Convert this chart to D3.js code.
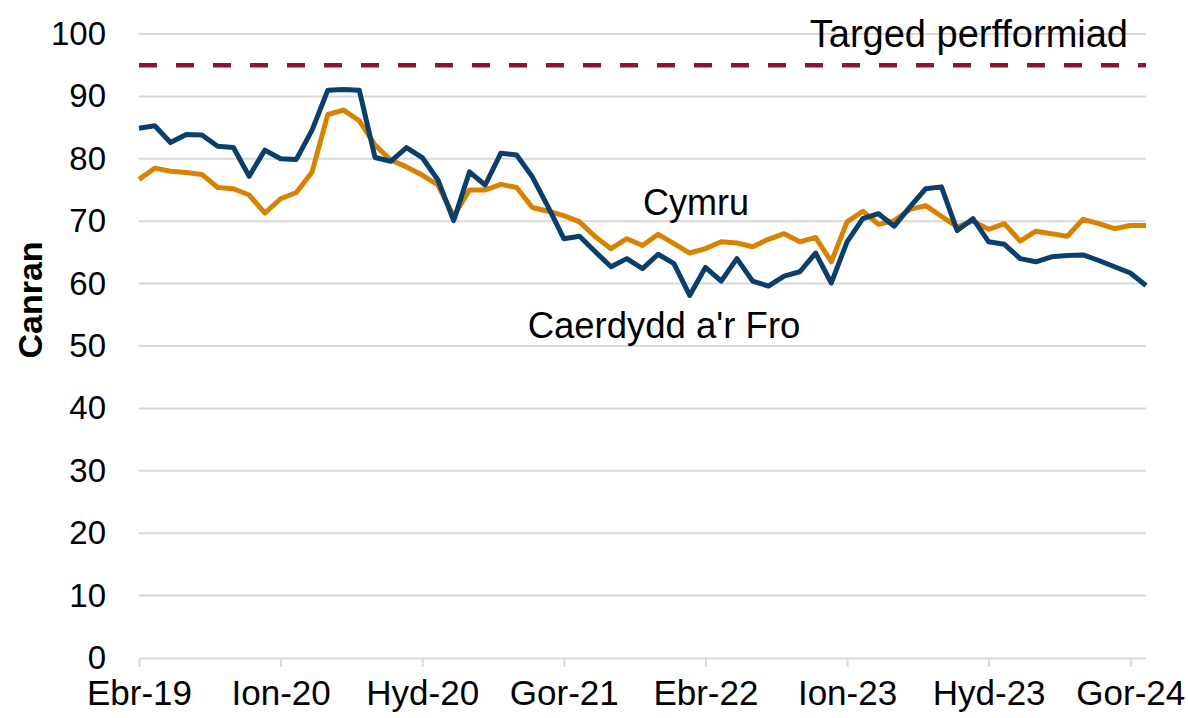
<!DOCTYPE html>
<html>
<head>
<meta charset="utf-8">
<script src="https://cdn.jsdelivr.net/npm/d3@7/dist/d3.min.js"></script>
<style>
  html, body { margin: 0; padding: 0; background: #fff; }
  svg { display: block; font-family: "Liberation Sans", Arial, sans-serif; }
</style>
</head>
<body>
<svg id="chart" width="1188" height="718"></svg>
<script>
const months = [
  "Ebr-19","Mai-19","Meh-19","Gor-19","Aws-19","Med-19","Hyd-19","Tach-19","Rha-19",
  "Ion-20","Chw-20","Maw-20","Ebr-20","Mai-20","Meh-20","Gor-20","Aws-20","Med-20",
  "Hyd-20","Tach-20","Rha-20","Ion-21","Chw-21","Maw-21","Ebr-21","Mai-21","Meh-21",
  "Gor-21","Aws-21","Med-21","Hyd-21","Tach-21","Rha-21","Ion-22","Chw-22","Maw-22",
  "Ebr-22","Mai-22","Meh-22","Gor-22","Aws-22","Med-22","Hyd-22","Tach-22","Rha-22",
  "Ion-23","Chw-23","Maw-23","Ebr-23","Mai-23","Meh-23","Gor-23","Aws-23","Med-23",
  "Hyd-23","Tach-23","Rha-23","Ion-24","Chw-24","Maw-24","Ebr-24","Mai-24","Meh-24",
  "Gor-24","Aws-24"
];

const caerdydd = [
  84.9, 85.3, 82.6, 83.9, 83.8, 82.0, 81.8, 77.2, 81.4,
  80.0, 79.9, 84.6, 91.0, 91.1, 91.0, 80.2, 79.6, 81.8,
  80.2, 76.6, 70.1, 77.9, 75.8, 80.9, 80.6, 77.1, 72.3,
  67.2, 67.6, 65.1, 62.7, 64.0, 62.4, 64.7, 63.2, 58.1,
  62.6, 60.4, 64.0, 60.4, 59.6, 61.2, 61.9, 64.9, 60.1,
  66.7, 70.4, 71.2, 69.2, 72.3, 75.2, 75.5, 68.5, 70.4,
  66.7, 66.3, 64.0, 63.5, 64.3, 64.5, 64.6, 63.7, 62.7,
  61.7, 59.7
];

const cymru = [
  76.7, 78.5, 78.0, 77.8, 77.5, 75.4, 75.2, 74.2, 71.3,
  73.6, 74.6, 77.9, 87.1, 87.8, 86.1, 82.2, 79.8, 78.7,
  77.4, 75.8, 70.8, 75.0, 75.0, 75.9, 75.4, 72.2, 71.6,
  70.9, 69.9, 67.5, 65.6, 67.2, 66.1, 67.9, 66.4, 64.9,
  65.6, 66.7, 66.5, 65.9, 67.1, 68.0, 66.7, 67.4, 63.5,
  69.9, 71.6, 69.5, 70.1, 71.9, 72.5, 70.8, 69.1, 70.0,
  68.7, 69.6, 66.8, 68.4, 68.0, 67.6, 70.3, 69.6, 68.8,
  69.3, 69.3
];

const target = 95;
const xTickLabels = ["Ebr-19","Ion-20","Hyd-20","Gor-21","Ebr-22","Ion-23","Hyd-23","Gor-24"];
const yTicks = [0,10,20,30,40,50,60,70,80,90,100];

(function () {
const svg = d3.select("#chart");
const pLeft = 139, pRight = 1146, pTop = 34, pBottom = 658;

const x = d3.scalePoint().domain(months).range([pLeft, pRight]);
const y = d3.scaleLinear().domain([0, 100]).range([pBottom, pTop]);

// gridlines
svg.append("g").selectAll("line")
  .data(yTicks.filter(d => d > 0))
  .join("line")
  .attr("x1", pLeft).attr("x2", pRight)
  .attr("y1", d => y(d)).attr("y2", d => y(d))
  .attr("stroke", "#d9d9d9").attr("stroke-width", 2);

// y axis labels
const yAxis = d3.axisLeft(y).tickValues(yTicks).tickSize(0).tickPadding(33);
const gy = svg.append("g").attr("transform", `translate(${pLeft},0)`).call(yAxis);
gy.select(".domain").remove();
gy.selectAll("text").attr("font-size", 33).attr("fill", "#000")
  .attr("font-family", "Liberation Sans, Arial, sans-serif");

// x axis
const xAxis = d3.axisBottom(x).tickValues(xTickLabels).tickSize(9).tickPadding(13).tickSizeOuter(0);
const gx = svg.append("g").attr("transform", `translate(0,${pBottom})`).call(xAxis);
gx.select(".domain").attr("stroke", "#d9d9d9").attr("stroke-width", 2)
  .attr("d", `M${pLeft},0.5H${pRight}`);
gx.selectAll(".tick line").attr("stroke", "#d9d9d9").attr("stroke-width", 2);
gx.selectAll("text").attr("font-size", 35).attr("fill", "#000")
  .attr("font-family", "Liberation Sans, Arial, sans-serif");

// target dashed line
svg.append("line")
  .attr("x1", pLeft).attr("x2", pRight)
  .attr("y1", y(target)).attr("y2", y(target))
  .attr("stroke", "#8b1430").attr("stroke-width", 4.5)
  .attr("stroke-dasharray", "18,19");

const line = d3.line().x((d, i) => x(months[i])).y(d => y(d));

svg.append("path").datum(cymru)
  .attr("d", line).attr("fill", "none")
  .attr("stroke", "#d98200").attr("stroke-width", 5)
  .attr("stroke-linejoin", "round");

svg.append("path").datum(caerdydd)
  .attr("d", line).attr("fill", "none")
  .attr("stroke", "#0a3f6b").attr("stroke-width", 5)
  .attr("stroke-linejoin", "round");

// annotations
svg.append("text").attr("x", 1128).attr("y", 47).attr("text-anchor", "end")
  .attr("font-size", 38).text("Targed perfformiad");
svg.append("text").attr("x", 696).attr("y", 215).attr("text-anchor", "middle")
  .attr("font-size", 36).text("Cymru");
svg.append("text").attr("x", 664).attr("y", 338).attr("text-anchor", "middle")
  .attr("font-size", 36.5).text("Caerdydd a'r Fro");

// y axis title
svg.append("text")
  .attr("transform", `translate(42,300) rotate(-90)`)
  .attr("text-anchor", "middle")
  .attr("font-size", 34).attr("font-weight", "bold")
  .text("Canran");
})();
</script>
</body>
</html>
